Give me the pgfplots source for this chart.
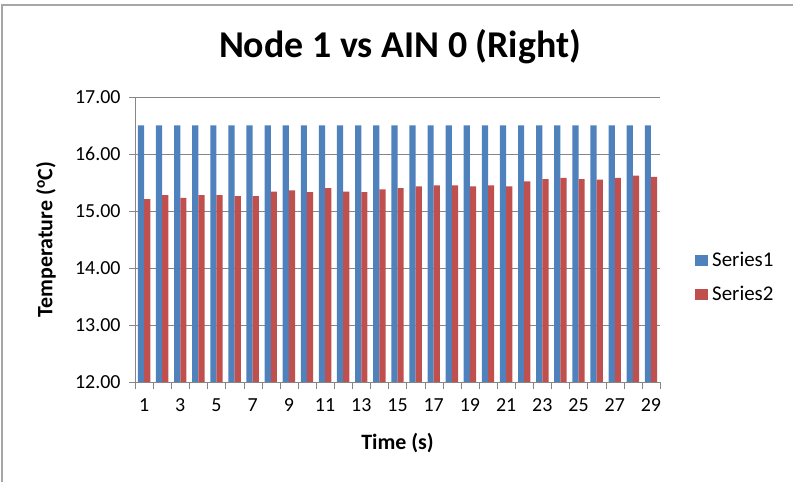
\documentclass[border=0pt]{standalone}
\usepackage{pgfplots}
\pgfplotsset{compat=1.18}
\usepackage{fontspec}
\setmainfont{Carlito}
\definecolor{sblue}{HTML}{4F81BD}
\definecolor{sred}{HTML}{C0504D}
\definecolor{agray}{HTML}{868686}
\begin{document}
\begin{tikzpicture}[x=1bp,y=1bp]
\path[use as bounding box] (0,0) rectangle (793,482);
\draw[gray!70, line width=1.5bp] (2,0) -- (2,477) -- (793,477);
\node[font=\bfseries\fontsize{38}{44}\selectfont] at (400,435) {Node 1 vs AIN 0 (Right)};
\begin{axis}[
  at={(135bp,100bp)}, anchor=south west,
  width=525bp, height=285bp, scale only axis,
  ybar=0pt, bar width=6.2bp,
  xmin=0.5, xmax=29.5, ymin=12, ymax=17,
  ytick={12,13,...,17},
  xtick={1,3,...,29},
  minor xtick={0.5,1.5,...,29.5},
  major x tick style={draw=none},
  minor x tick style={agray},
  minor tick length=7bp,
  y tick style={agray},
  major tick length=6bp,
  tick align=outside,
  axis x line*=bottom, axis y line*=left,
  axis line style={agray, line width=0.8bp},
  separate axis lines,
  ymajorgrids, grid style={agray, line width=0.8bp},
  /pgf/number format/assume math mode=true,
  yticklabel style={/pgf/number format/fixed, /pgf/number format/fixed zerofill, /pgf/number format/precision=2, xshift=-5bp},
  ticklabel style={font=\fontsize{20}{22}\selectfont},
  xticklabel style={yshift=-7bp},
  xlabel={\textbf{Time (s)}},
  ylabel={\textbf{Temperature (\textsuperscript{o}C)}},
  label style={font=\fontsize{22}{24}\selectfont},
  xlabel style={at={(axis description cs:0.5,-0.214)}, anchor=center},
  ylabel style={at={(axis description cs:-0.1695,0.5)}, anchor=center},
  legend style={at={(1.0667,0.367)}, anchor=west, draw=none, fill=none, inner sep=0pt,
    font=\fontsize{21}{24}\selectfont, row sep=14bp, nodes={inner xsep=4pt}},
  legend cell align=left,
  legend image code/.code={\fill[#1] (0bp,-5.5bp) rectangle (13bp,5.5bp);},
]
\addplot[fill=sblue, draw=none] coordinates {
(1,16.5) (2,16.5) (3,16.5) (4,16.5) (5,16.5) (6,16.5) (7,16.5) (8,16.5) (9,16.5) (10,16.5)
(11,16.5) (12,16.5) (13,16.5) (14,16.5) (15,16.5) (16,16.5) (17,16.5) (18,16.5) (19,16.5) (20,16.5)
(21,16.5) (22,16.5) (23,16.5) (24,16.5) (25,16.5) (26,16.5) (27,16.5) (28,16.5) (29,16.5)};
\addplot[fill=sred, draw=none] coordinates {
(1,15.21) (2,15.28) (3,15.23) (4,15.28) (5,15.28) (6,15.26) (7,15.26) (8,15.34) (9,15.36) (10,15.33)
(11,15.40) (12,15.34) (13,15.33) (14,15.38) (15,15.40) (16,15.43) (17,15.45) (18,15.45) (19,15.43) (20,15.45)
(21,15.43) (22,15.52) (23,15.56) (24,15.58) (25,15.56) (26,15.55) (27,15.58) (28,15.62) (29,15.60)};
\legend{Series1,Series2}
\end{axis}
\end{tikzpicture}
\end{document}
